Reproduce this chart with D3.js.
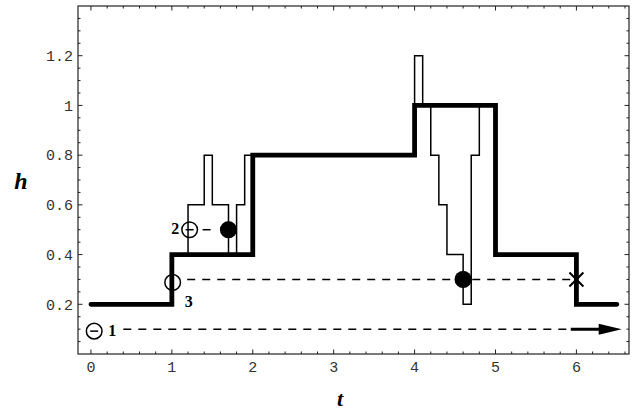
<!DOCTYPE html>
<head>
  <meta charset="utf-8">
</head>
<style>
body { margin: 0; background: #fff; }
.tick-label { font-family: "Liberation Mono", monospace; font-size: 15px; fill: #333; }
.axis-title { font-family: "Liberation Serif", serif; font-style: italic; font-weight: bold; }
.mark-label { font-family: "Liberation Serif", serif; font-weight: bold; font-size: 16px; }
</style>
<body>
<script src="https://d3js.org/d3.v7.min.js"></script>
<script>
// thick step: the main curve
var thickT = [0, 1, 2, 4, 5, 6, 6.5];
var thickH = [0.2, 0.4, 0.8, 1.0, 0.4, 0.2, 0.2];

// thin steps
var thin1T = [1.2, 1.2, 1.4, 1.5, 1.7, 1.8, 1.9, 2.0];
var thin1H = [0.4, 0.6, 0.8, 0.6, 0.4, 0.6, 0.8, 0.8];
var thin2T = [4.0, 4.0, 4.1, 4.2, 4.3, 4.4, 4.6, 4.7, 4.8, 5.0];
var thin2H = [1.0, 1.2, 1.0, 0.8, 0.6, 0.4, 0.2, 0.8, 1.0, 1.0];

// open circles
var openT = [0.04, 1.22, 1.01];
var openH = [0.092, 0.5, 0.288];
var openMinus = [true, true, false];
var openLabel = ["1", "2", "3"];

// filled circles and cross
var filledT = [1.7, 4.6];
var filledH = [0.5, 0.3];
var crossT = [6.0];
var crossH = [0.3];

// dashed levels
var dashFrom = [0.4, 1.19, 1.38];
var dashTo = [5.93, 6.0, 1.5];
var dashH = [0.1, 0.3, 0.5];

// arrow
var arrowT = [5.93, 6.56];
var arrowH = 0.1;

var xMajor = [0, 1, 2, 3, 4, 5, 6];
var yMajor = [0.2, 0.4, 0.6, 0.8, 1, 1.2];

var width = 642, height = 413;
var padL = 78, padR = 629, padT = 6, padB = 354;

var x = d3.scaleLinear().domain([-0.16, 6.65]).range([padL, padR]);
var y = d3.scaleLinear().domain([0, 1.4]).range([padB, padT]);

var svg = d3.select("body").append("svg")
  .attr("width", width)
  .attr("height", height);

// frame
svg.append("rect")
  .attr("x", padL).attr("y", padT)
  .attr("width", padR - padL).attr("height", padB - padT)
  .attr("fill", "none")
  .attr("stroke", "#222")
  .attr("stroke-width", 1.2);

// ticks, all four sides, pointing inward
var xMinor = d3.range(0, 6.65, 0.2).filter(function(d) { return Math.abs(d - Math.round(d)) > 1e-6; });
var yMinor = d3.range(0.05, 1.4, 0.05).filter(function(d) { return Math.abs(d * 5 - Math.round(d * 5)) > 1e-6; });

function tickLines(data, len, vertical) {
  var g = svg.append("g").attr("stroke", "#222").attr("stroke-width", 1);
  data.forEach(function(d) {
    if (vertical) {
      g.append("line").attr("x1", x(d)).attr("x2", x(d)).attr("y1", padB).attr("y2", padB - len);
      g.append("line").attr("x1", x(d)).attr("x2", x(d)).attr("y1", padT).attr("y2", padT + len);
    } else {
      g.append("line").attr("y1", y(d)).attr("y2", y(d)).attr("x1", padL).attr("x2", padL + len);
      g.append("line").attr("y1", y(d)).attr("y2", y(d)).attr("x1", padR).attr("x2", padR - len);
    }
  });
}
tickLines(xMajor, 4.5, true);
tickLines(xMinor, 2.5, true);
tickLines(yMajor, 4.5, false);
tickLines(yMinor, 2.5, false);

svg.selectAll(".xlab").data(xMajor).enter().append("text")
  .attr("class", "tick-label")
  .attr("x", function(d) { return x(d); })
  .attr("y", padB + 18)
  .attr("text-anchor", "middle")
  .text(function(d) { return d; });

svg.selectAll(".ylab").data(yMajor).enter().append("text")
  .attr("class", "tick-label")
  .attr("x", padL - 5)
  .attr("y", function(d) { return y(d); })
  .attr("dy", "0.35em")
  .attr("text-anchor", "end")
  .text(function(d) { return d; });

svg.append("text").attr("class", "axis-title")
  .attr("x", 21).attr("y", 189)
  .attr("text-anchor", "middle")
  .attr("font-size", 24)
  .text("h");

svg.append("text").attr("class", "axis-title")
  .attr("x", 340).attr("y", 406)
  .attr("text-anchor", "middle")
  .attr("font-size", 22)
  .text("t");

var step = d3.line()
  .x(function(d) { return x(d[0]); })
  .y(function(d) { return y(d[1]); })
  .curve(d3.curveStepAfter);

function pairs(a, b) { return a.map(function(d, i) { return [d, b[i]]; }); }

// dashed levels
dashH.forEach(function(h, i) {
  svg.append("line")
    .attr("x1", x(dashFrom[i])).attr("x2", x(dashTo[i]))
    .attr("y1", y(h)).attr("y2", y(h))
    .attr("stroke", "#000")
    .attr("stroke-width", 1.5)
    .attr("stroke-dasharray", "8,7");
});

// arrow
svg.append("line")
  .attr("x1", x(arrowT[0])).attr("x2", x(arrowT[1]) - 18)
  .attr("y1", y(arrowH)).attr("y2", y(arrowH))
  .attr("stroke", "#000").attr("stroke-width", 3);
svg.append("path")
  .attr("d", "M" + x(arrowT[1]) + "," + y(arrowH) +
    "L" + (x(arrowT[1]) - 23) + "," + (y(arrowH) - 5.5) +
    "L" + (x(arrowT[1]) - 23) + "," + (y(arrowH) + 5.5) + "Z")
  .attr("fill", "#000");

// thin steps
[pairs(thin1T, thin1H), pairs(thin2T, thin2H)].forEach(function(p) {
  svg.append("path")
    .attr("d", step(p))
    .attr("fill", "none")
    .attr("stroke", "#000")
    .attr("stroke-width", 1.5);
});

// thick step
svg.append("path")
  .attr("d", step(pairs(thickT, thickH)))
  .attr("fill", "none")
  .attr("stroke", "#000")
  .attr("stroke-width", 4.8)
  .attr("stroke-linecap", "round");

// open circles
openT.forEach(function(t, i) {
  var cx = x(t), cy = y(openH[i]);
  svg.append("circle")
    .attr("cx", cx).attr("cy", cy).attr("r", 7.8)
    .attr("fill", "none").attr("stroke", "#000").attr("stroke-width", 1.5);
  if (openMinus[i]) {
    svg.append("line")
      .attr("x1", cx - 4).attr("x2", cx + 4)
      .attr("y1", cy).attr("y2", cy)
      .attr("stroke", "#000").attr("stroke-width", 1.5);
  }
});

var labelDx = [18, -14.5, 16], labelDy = [4.5, 4, 25];
openLabel.forEach(function(s, i) {
  svg.append("text").attr("class", "mark-label")
    .attr("x", x(openT[i]) + labelDx[i])
    .attr("y", y(openH[i]) + labelDy[i])
    .attr("text-anchor", "middle")
    .text(s);
});

// filled circles
svg.selectAll(".dot").data(pairs(filledT, filledH)).enter().append("circle")
  .attr("cx", function(d) { return x(d[0]); })
  .attr("cy", function(d) { return y(d[1]); })
  .attr("r", 8.6)
  .attr("fill", "#000");

// cross
svg.selectAll(".cross").data(pairs(crossT, crossH)).enter().append("path")
  .attr("d", function(d) {
    var cx = x(d[0]), cy = y(d[1]), s = 7;
    return "M" + (cx - s) + "," + (cy - s) + "L" + (cx + s) + "," + (cy + s) +
      "M" + (cx - s) + "," + (cy + s) + "L" + (cx + s) + "," + (cy - s);
  })
  .attr("stroke", "#000")
  .attr("stroke-width", 2);
</script>
</body>
